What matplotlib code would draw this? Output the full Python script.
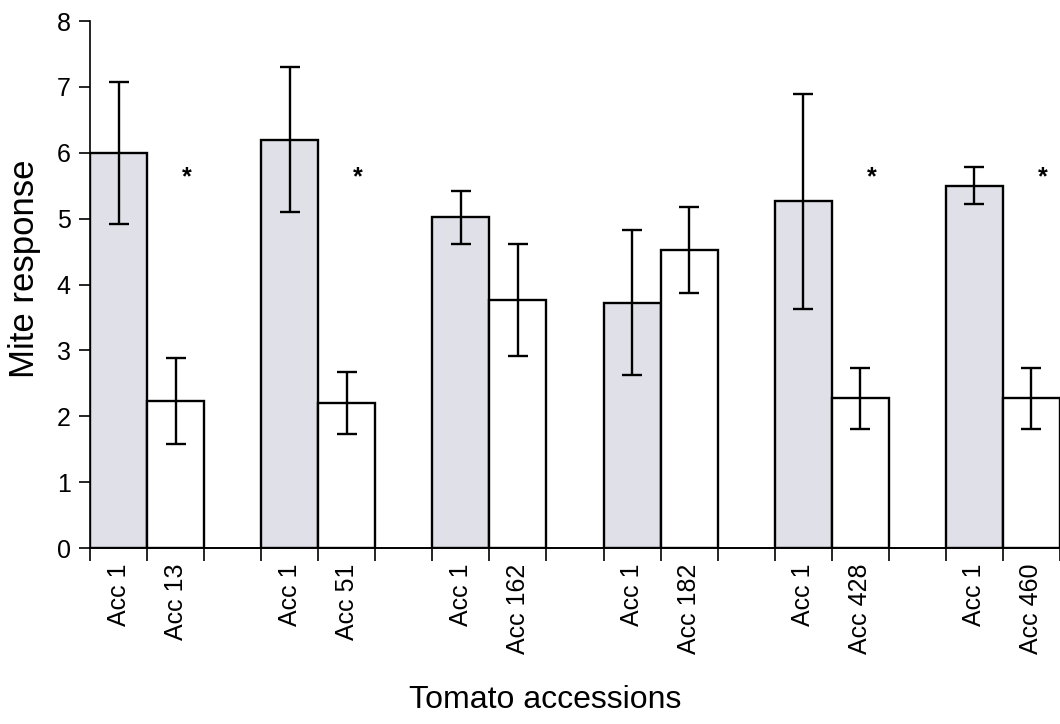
import matplotlib
matplotlib.use("Agg")
import matplotlib.pyplot as plt
from matplotlib import font_manager

labels = ["Acc 1", "Acc 13", "Acc 1", "Acc 51", "Acc 1", "Acc 162",
          "Acc 1", "Acc 182", "Acc 1", "Acc 428", "Acc 1", "Acc 460"]
control_means = [6.0, 6.2, 5.02, 3.72, 5.26, 5.5]
control_err = [1.08, 1.1, 0.4, 1.1, 1.63, 0.28]
test_means = [2.23, 2.2, 3.76, 4.52, 2.27, 2.27]
test_err = [0.65, 0.47, 0.85, 0.65, 0.47, 0.47]
significant = [True, True, False, False, True, True]

names = {f.name for f in font_manager.fontManager.ttflist}
narrow = "Liberation Sans Narrow" if "Liberation Sans Narrow" in names else "Liberation Sans"
plt.rcParams['font.family'] = ['Liberation Sans', 'DejaVu Sans']

W, H = 1060, 724
fig = plt.figure(figsize=(W / 100, H / 100), dpi=100)
left_px, bottom_px, top_px = 90, 548, 21
unit_px = 57.5
xmin = -0.5
xmax = xmin + (W - left_px) / unit_px
ax = fig.add_axes([left_px / W, (H - bottom_px) / H, (W - left_px) / W, (bottom_px - top_px) / H])

gray = "#e0e0e8"
ctrl_x = [3 * i for i in range(len(control_means))]
test_x = [3 * i + 1 for i in range(len(test_means))]

ax.bar(ctrl_x, control_means, width=1.0, color=gray, edgecolor="black", linewidth=1.7, zorder=2)
ax.bar(test_x, test_means, width=1.0, color="white", edgecolor="black", linewidth=1.7, zorder=2)
ax.errorbar(ctrl_x, control_means, yerr=control_err, fmt="none", ecolor="black",
            elinewidth=1.7, capsize=7, capthick=1.7, zorder=3)
ax.errorbar(test_x, test_means, yerr=test_err, fmt="none", ecolor="black",
            elinewidth=1.7, capsize=7, capthick=1.7, zorder=3)

for tx, sig in zip(test_x, significant):
    if sig:
        ax.text(tx + 0.2, 5.62, "*", ha="center", va="center", fontsize=18, fontweight="bold")

ax.set_xlim(xmin, xmax)
ax.set_ylim(0, 8)
ax.set_yticks(range(0, 9))
ax.tick_params(axis="y", direction="out", length=8, width=1.2, labelsize=18, pad=6)

boundaries = [b - 0.5 for b in range(0, 18)]
ax.set_xticks(boundaries, minor=True)
ax.tick_params(axis="x", which="minor", direction="out", length=9, width=1.2)
all_x = sorted(ctrl_x + test_x)
ax.set_xticks(all_x)
ax.set_xticklabels(labels, rotation=90, fontsize=18)
ax.tick_params(axis="x", which="major", length=0, pad=11)

for s in ["top", "right"]:
    ax.spines[s].set_visible(False)
ax.spines["left"].set_linewidth(1.2)
ax.spines["bottom"].set_linewidth(1.4)

ax.set_ylabel("Mite response", fontsize=25)
ax.yaxis.set_label_coords(-0.05, 0.53)
fig.text(545 / W, 1 - 700 / H, "Tomato accessions", ha="center", va="center",
         fontsize=23, family=[narrow, "Liberation Sans"])

fig.savefig("out.png", dpi=100)
